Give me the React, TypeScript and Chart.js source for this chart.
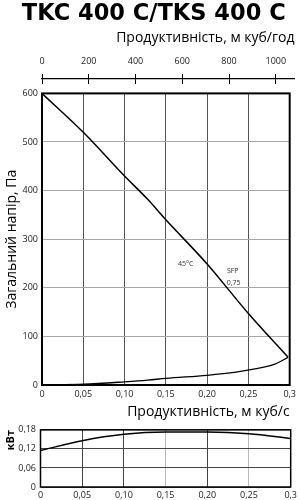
import React, { useEffect, useRef } from "react";
import { Chart, registerables } from "chart.js";

Chart.register(...registerables);

// ---- data ----
const chartTitle = "TKC 400 C/TKS 400 C";
const topAxisTitle = "Продуктивність, м куб/год";
const bottomAxisTitle = "Продуктивність, м куб/с";
const pressureAxisTitle = "Загальний напір, Па";
const powerAxisTitle = "кВт";

const topAxisTicks = [0, 200, 400, 600, 800, 1000];
const topAxisMax = 1080;

const fanX = [0, 0.05, 0.1, 0.128, 0.15, 0.2, 0.25, 0.298];
const fanY = [600, 520, 430, 382, 340, 249, 147, 57];

const sysX = [0, 0.05, 0.1, 0.128, 0.15, 0.2, 0.235, 0.258, 0.282, 0.298];
const sysY = [0, 1.5, 6.5, 10, 13.7, 20, 26.5, 33, 43, 57];

const powerX = [0, 0.05, 0.1, 0.15, 0.2, 0.25, 0.3];
const powerY = [0.115, 0.146, 0.166, 0.173, 0.173, 0.168, 0.153];

const flowTicks = [0, 0.05, 0.1, 0.15, 0.2, 0.25, 0.3];
const pressureTicks = [0, 100, 200, 300, 400, 500, 600];
const powerTicks = [0, 0.06, 0.12, 0.18];

const curveNotes = [
  { text: "45°C", x: 0.174, y: 249 },
  { text: "SFP", x: 0.231, y: 235 },
  { text: "0,75", x: 0.232, y: 210 },
];

const FONT = "'Open Sans', 'DejaVu Sans', sans-serif";
const TITLE_FONT = "'DejaVu Sans', 'Open Sans', sans-serif";

function fmtComma(v: number, maxV: number): string {
  const r = Math.round(v * 100) / 100;
  if (r === 0) return "0";
  if (Math.abs(r - maxV) < 1e-9 && maxV === 0.3) return "0,3";
  return r.toFixed(2).replace(".", ",");
}

const framePlugin = (width: number) => ({
  id: "frame",
  afterDatasetsDraw(chart: any) {
    const { ctx, chartArea } = chart;
    ctx.save();
    ctx.strokeStyle = "#000";
    ctx.lineWidth = width;
    ctx.strokeRect(chartArea.left, chartArea.top, chartArea.right - chartArea.left, chartArea.bottom - chartArea.top);
    ctx.restore();
  },
});

const notesPlugin = {
  id: "notes",
  afterDatasetsDraw(chart: any) {
    const { ctx, scales } = chart;
    ctx.save();
    ctx.fillStyle = "#333";
    ctx.font = `7px ${FONT}`;
    ctx.textAlign = "center";
    ctx.textBaseline = "middle";
    for (const n of curveNotes) {
      ctx.fillText(n.text, scales.x.getPixelForValue(n.x), scales.y.getPixelForValue(n.y));
    }
    ctx.restore();
  },
};

export default function App() {
  const topRef = useRef<HTMLCanvasElement>(null);
  const mainRef = useRef<HTMLCanvasElement>(null);
  const powRef = useRef<HTMLCanvasElement>(null);

  useEffect(() => {
    document.body.style.margin = "0";
    const charts: Chart[] = [];

    // --- title + top axis (m3/h) ---
    charts.push(
      new Chart(topRef.current!, {
        type: "line",
        data: { datasets: [] },
        options: {
          responsive: false,
          animation: false,
          layout: { padding: { left: 13, right: 5.5, top: 0, bottom: 0 } },
          plugins: {
            legend: { display: false },
            tooltip: { enabled: false },
            title: {
              display: true,
              text: chartTitle,
              color: "#000",
              font: { family: TITLE_FONT, weight: "bold", size: 22.5 },
              padding: { top: 1, bottom: -1 },
            },
          },
          scales: {
            x: {
              type: "linear",
              position: "top",
              min: 0,
              max: topAxisMax,
              afterBuildTicks: (s: any) => {
                s.ticks = topAxisTicks.map((v) => ({ value: v }));
              },
              afterFit: (s: any) => {
                s.height = 52;
              },
              ticks: {
                color: "#222",
                font: { family: FONT, size: 9 },
                padding: 7,
                maxRotation: 0,
                callback: (v: any) => String(Math.round(Number(v))),
              },
              grid: { color: "#000", lineWidth: 1, tickLength: 5, drawOnChartArea: true },
              border: { display: true, color: "#000", width: 1.2 },
              title: {
                display: true,
                text: topAxisTitle,
                align: "end",
                color: "#000",
                font: { family: FONT, size: 14 },
                padding: { top: 3, bottom: 0 },
              },
            },
            y: {
              display: true,
              min: 0,
              max: 1,
              afterFit: (s: any) => {
                s.width = 29;
              },
              ticks: { display: false },
              grid: { display: false },
              border: { display: false },
            },
          },
        },
      } as any)
    );

    // --- main pressure chart ---
    charts.push(
      new Chart(mainRef.current!, {
        type: "line",
        data: {
          datasets: [
            {
              data: fanX.map((x, i) => ({ x, y: fanY[i] })),
              borderColor: "#000",
              borderWidth: 1.5,
              pointRadius: 0,
              cubicInterpolationMode: "monotone",
            },
            {
              data: sysX.map((x, i) => ({ x, y: sysY[i] })),
              borderColor: "#000",
              borderWidth: 1.3,
              pointRadius: 0,
              cubicInterpolationMode: "monotone",
            },
          ],
        },
        options: {
          responsive: false,
          animation: false,
          layout: { padding: { left: 0, right: 5.5, top: 7, bottom: 0 } },
          plugins: { legend: { display: false }, tooltip: { enabled: false }, title: { display: false } },
          scales: {
            x: {
              type: "linear",
              min: 0,
              max: 0.3,
              afterBuildTicks: (s: any) => {
                s.ticks = flowTicks.map((v) => ({ value: v }));
              },
              afterFit: (s: any) => {
                s.height = 35;
              },
              ticks: {
                color: "#222",
                font: { family: FONT, size: 9 },
                padding: 4,
                maxRotation: 0,
                callback: (v: any) => fmtComma(Number(v), 0.3),
              },
              grid: { color: "#555", lineWidth: 1, drawTicks: false },
              border: { display: false },
              title: {
                display: true,
                text: bottomAxisTitle,
                align: "end",
                color: "#000",
                font: { family: FONT, size: 14 },
                padding: { top: 0, bottom: 0 },
              },
            },
            y: {
              type: "linear",
              min: 0,
              max: 600,
              afterBuildTicks: (s: any) => {
                s.ticks = pressureTicks.map((v) => ({ value: v }));
              },
              afterFit: (s: any) => {
                s.width = 42;
              },
              ticks: { color: "#222", font: { family: FONT, size: 9 }, padding: 4 },
              grid: { color: "#aaa", lineWidth: 1, drawTicks: false },
              border: { display: false },
              title: {
                display: true,
                text: pressureAxisTitle,
                color: "#000",
                font: { family: FONT, size: 14 },
                padding: { top: 4, bottom: 0 },
              },
            },
          },
        },
        plugins: [framePlugin(2), notesPlugin],
      } as any)
    );

    // --- power chart ---
    charts.push(
      new Chart(powRef.current!, {
        type: "line",
        data: {
          datasets: [
            {
              data: powerX.map((x, i) => ({ x, y: powerY[i] })),
              borderColor: "#000",
              borderWidth: 1.5,
              pointRadius: 0,
              cubicInterpolationMode: "monotone",
            },
          ],
        },
        options: {
          responsive: false,
          animation: false,
          layout: { padding: { left: 0, right: 5.5, top: 8, bottom: 0 } },
          plugins: { legend: { display: false }, tooltip: { enabled: false }, title: { display: false } },
          scales: {
            x: {
              type: "linear",
              min: 0,
              max: 0.3,
              afterBuildTicks: (s: any) => {
                s.ticks = flowTicks.map((v) => ({ value: v }));
              },
              afterFit: (s: any) => {
                s.height = 13;
              },
              ticks: {
                color: "#222",
                font: { family: FONT, size: 9 },
                padding: 3,
                maxRotation: 0,
                callback: (v: any) => fmtComma(Number(v), 0.3),
              },
              grid: {
                color: (c: any) => {
                  const v = Math.round((c.tick?.value ?? 0) * 100);
                  return v === 15 || v === 25 ? "#bbb" : "#444";
                },
                lineWidth: 1,
                drawTicks: false,
              },
              border: { display: false },
            },
            y: {
              type: "linear",
              min: 0,
              max: 0.18,
              afterBuildTicks: (s: any) => {
                s.ticks = powerTicks.map((v) => ({ value: v }));
              },
              afterFit: (s: any) => {
                s.width = 40.5;
              },
              ticks: {
                color: "#222",
                font: { family: FONT, size: 9 },
                padding: 4.5,
                callback: (v: any) => fmtComma(Number(v), 0.18),
              },
              grid: { color: "#444", lineWidth: 1, drawTicks: false },
              border: { display: false },
              title: {
                display: true,
                text: powerAxisTitle,
                align: "end",
                color: "#000",
                font: { family: FONT, size: 11, weight: "bold" },
                padding: { top: 4, bottom: 0 },
              },
            },
          },
        },
        plugins: [framePlugin(1.5)],
      } as any)
    );

    return () => {
      charts.forEach((c) => c.destroy());
    };
  }, []);

  return (
    <div style={{ position: "absolute", left: 0, top: 0, width: 300, height: 500, background: "#fff" }}>
      <canvas ref={topRef} width={300} height={84} style={{ position: "absolute", left: 0, top: 0 }} />
      <canvas ref={mainRef} width={300} height={336} style={{ position: "absolute", left: 0, top: 84 }} />
      <canvas ref={powRef} width={300} height={80} style={{ position: "absolute", left: 0, top: 420 }} />
    </div>
  );
}
